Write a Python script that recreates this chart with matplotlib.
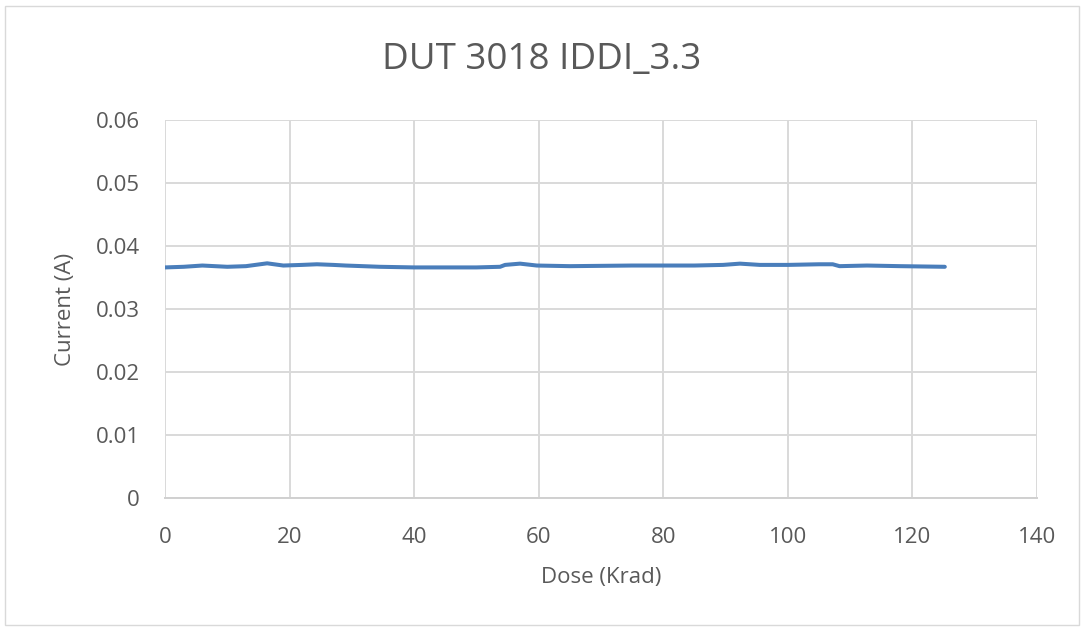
import matplotlib.pyplot as plt
from matplotlib.patches import Rectangle

# values
dose = [0, 3, 6, 10, 13, 16.4, 19, 22, 24.4, 27, 29, 34.5, 40, 45.7, 50, 53.8, 54.6,
        57, 59.7, 65, 75, 85, 89.6, 92.3, 95.5, 100, 105, 107.2, 108.3, 112.7, 118, 125.2]
current = [0.0366, 0.0367, 0.0369, 0.0367, 0.0368, 0.03725, 0.0369, 0.0370, 0.0371, 0.0370,
           0.0369, 0.0367, 0.0366, 0.0366, 0.0366, 0.0367, 0.0370,
           0.0372, 0.0369, 0.0368, 0.0369, 0.0369, 0.0370, 0.0372, 0.0370, 0.0370, 0.0371, 0.0371,
           0.0368, 0.0369, 0.0368, 0.0367]

xticks = [0, 20, 40, 60, 80, 100, 120, 140]
yticks = [0, 0.01, 0.02, 0.03, 0.04, 0.05, 0.06]
ytick_labels = ['0', '0.01', '0.02', '0.03', '0.04', '0.05', '0.06']

plt.rcParams['font.family'] = ['Open Sans', 'DejaVu Sans']
text_col = '#595959'
W, H = 1084, 631

fig = plt.figure(figsize=(W / 100, H / 100), dpi=100)
fig.patches.append(Rectangle((5 / W, 0.01), 1 - 10 / W, 1 - 12 / H, transform=fig.transFigure,
                             fill=False, edgecolor='#D9D9D9', lw=1))

ax = fig.add_axes([165 / W, 1 - 498 / H, (1037 - 165) / W, (498 - 120) / H])
ax.plot(dose, current, color='#4A7EBB', lw=2.9, solid_capstyle='round')

ax.set_xlim(0, 140)
ax.set_ylim(0, 0.06)
ax.set_xticks(xticks)
ax.set_yticks(yticks)
ax.set_yticklabels(ytick_labels)
ax.grid(True, color='#D9D9D9', lw=1.4)
ax.set_axisbelow(True)
for s in ['top', 'right', 'left']:
    ax.spines[s].set_visible(False)
ax.spines['bottom'].set_color('#D0D0D0')
ax.spines['bottom'].set_linewidth(1.4)
ax.tick_params(length=0, labelsize=16, colors=text_col)
ax.tick_params(axis='x', pad=21)
ax.tick_params(axis='y', pad=18)

ax.set_xlabel('Dose (Krad)', fontsize=16, color=text_col, va='center')
ax.set_ylabel('Current (A)', fontsize=16, color=text_col, va='center')
ax.xaxis.set_label_coords(0.5, (498 - 578) / 378)
ax.yaxis.set_label_coords((65 - 165) / 872, 0.5)
fig.text(0.5, 1 - 60 / H, 'DUT 3018 IDDI_3.3', ha='center', va='center',
         fontsize=26.5, color=text_col)

fig.savefig('out.png', dpi=100)
